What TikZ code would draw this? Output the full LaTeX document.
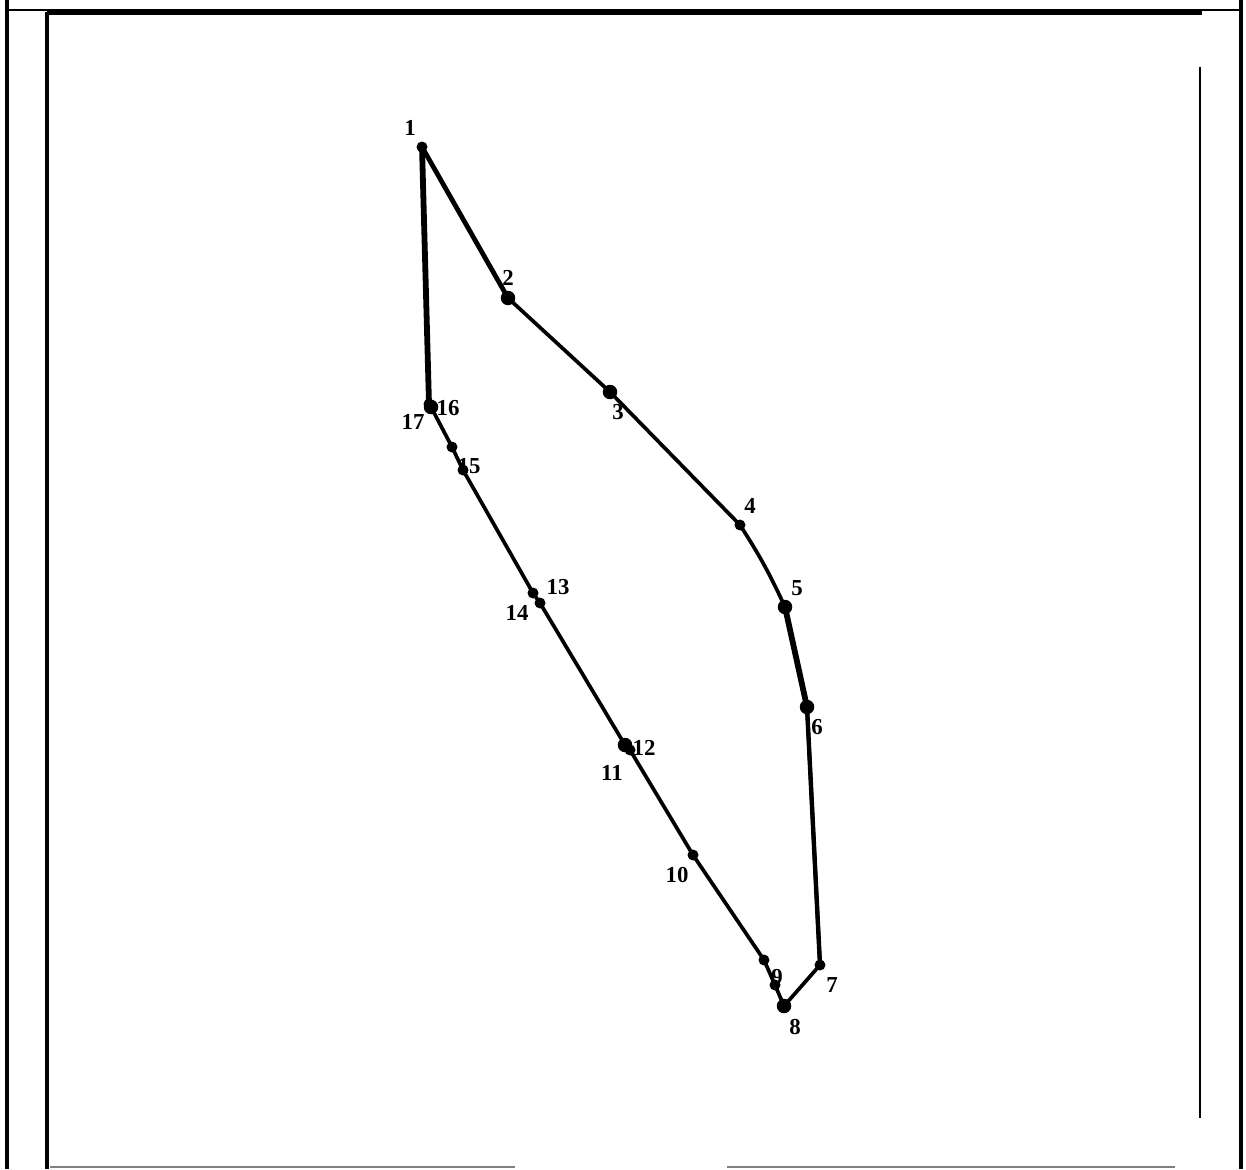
\documentclass[tikz,border=0pt]{standalone}
\usepackage{fontspec}
\setmainfont{Liberation Serif}
\tikzset{
  curve/.style={line width=2.1pt,line join=round,line cap=round},
  heavy/.style={line width=3.3pt,line cap=round},
  dot/.style={circle,fill=black,inner sep=0pt,minimum size=0.22cm},
  bigdot/.style={dot,minimum size=0.29cm},
  num/.style={font=\fontsize{13}{15}\selectfont\bfseries,inner sep=0pt},
  frame/.style={line width=2.4pt},
  thinframe/.style={line width=0.8pt}
}
\begin{document}
\begin{tikzpicture}[x=0.02cm,y=-0.02cm]
\useasboundingbox (0,0) rectangle (1246,1169);
% frame
\draw[frame] (7,0)--(7,1169);
\draw[frame] (47,12)--(47,1169);
\draw[line width=3pt] (47,12)--(1202,12);
\draw[thinframe] (5,10)--(47,10);
\draw[thinframe] (1185,10)--(1241,10);
\draw[frame] (1241,0)--(1241,1169);
\draw[line width=1.3pt] (1200,67)--(1200,1118);
\draw[thinframe,gray] (50,1167)--(515,1167);
\draw[thinframe,gray] (727,1167)--(1175,1167);
% points of the loop
\foreach \n/\x/\y in {1/422/147,4/740/525,7/820/965,9a/775/985,9/764/960,10/693/855,
  11/630/750,13/533/593,14/540/603,15/463/470,15a/452/447,17/429/404}
  \node[dot] (p\n) at (\x,\y) {};
\foreach \n/\x/\y in {2/508/298,3/610/392,5/785/607,6/807/707,8/784/1006,
  12/625/745,16/431/407}
  \node[bigdot] (p\n) at (\x,\y) {};
% labels
\foreach \n/\x/\y in {1/410/128,2/508/278,3/618/412,4/750/506,5/797/588,6/817/727,
  7/832/985,8/795/1027,9/777/977,10/677/875,11/612/773,12/644/748,
  13/558/587,14/517/613,15/469/466,16/448/408,17/413/422}
  \node[num] (l\n) at (\x,\y) {\n};
% loop
\draw[curve] (p1.center)--(p2.center)--(p3.center)--(p4.center)
  to[bend left=4] (p5.center);
\draw[curve] (p6.center)--(p7.center)--(p8.center)--(p9a.center)--(p9.center)
  --(p10.center)--(p11.center)--(p12.center)--(p14.center)--(p13.center)
  --(p15.center)--(p15a.center)--(p16.center)--(p17.center);
\draw[heavy] (p5.center)--(p6.center);
\draw[heavy] (p17.center)--(p1.center);
\draw[line width=2.7pt,line cap=round] (p1.center)--(p2.center);
\draw[line width=2.5pt,line cap=round] (p6.center)--(p7.center);
\end{tikzpicture}
\end{document}
